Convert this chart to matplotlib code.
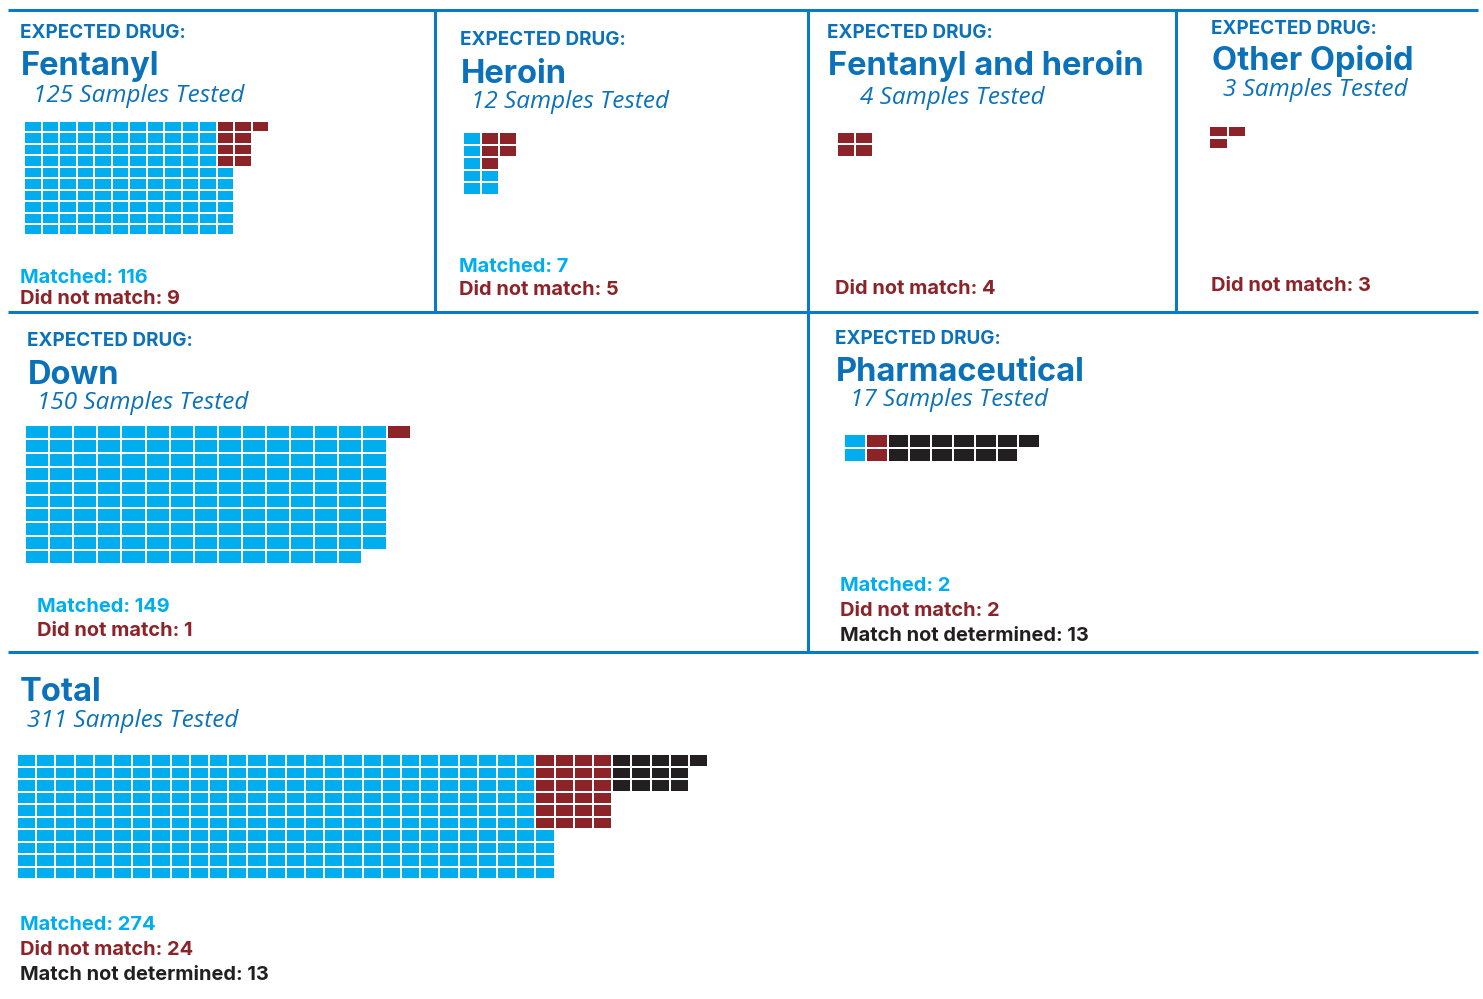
import matplotlib
matplotlib.use("Agg")
import matplotlib.pyplot as plt
from matplotlib.patches import Rectangle

plt.rcParams["font.family"] = ["Inter", "DejaVu Sans"]

# datos
nombres = ["Fentanyl", "Heroin", "Fentanyl and heroin", "Other Opioid", "Down", "Pharmaceutical", "Total"]
muestras = [125, 12, 4, 3, 150, 17, 311]
coinciden = [116, 7, 0, 0, 149, 2, 274]
no_coinciden = [9, 5, 4, 3, 1, 2, 24]
no_determinado = [0, 0, 0, 0, 0, 13, 13]

etiquetas = ["Matched", "Did not match", "Match not determined"]
colores = ["#00adee", "#8b2328", "#231f20"]
AZUL = "#0b72b9"
LINEA = "#0a7ac4"

W, H = 1483, 999

# layout de cada panel (pixeles)
# x, base "EXPECTED DRUG", base titulo, x subtitulo, base subtitulo
cabeceras = [
    (20, 38, 75, 33, 102),
    (460, 45, 83, 471, 108),
    (827, 38, 75, 860, 104),
    (1211, 34, 70, 1223, 96),
    (27, 346, 384, 37, 409),
    (835, 344, 381, 850, 406),
    (19, None, 701, 27, 727),
]
# x leyenda, base primera linea, separacion
leyendas = [
    (20, 283, 21),
    (459, 272, 23),
    (835, 294, 24),
    (1211, 291, 24),
    (37, 612, 24),
    (840, 591, 25),
    (20, 930, 25),
]
# izquierda, arriba, paso x, paso y, filas, bandas, de abajo hacia arriba, columna nueva
waffles = [
    (25, 122, 17.5, 11.45, 10, [10, 4, 4], [True, False, False], [False, False, False]),
    (464, 133, 18.0, 12.5, 5, [5, 3, 3], [True, False, False], [False, False, False]),
    (838, 133, 18.0, 12.4, 2, [2, 2, 2], [False, False, False], [False, False, False]),
    (1210, 127, 18.5, 11.5, 2, [2, 2, 2], [False, False, False], [False, False, False]),
    (26, 426, 24.1, 13.9, 10, [10, 1, 1], [False, False, False], [False, True, False]),
    (845, 435, 21.8, 14.0, 2, [2, 2, 2], [False, False, False], [False, False, False]),
    (18, 755, 19.2, 12.5, 10, [10, 6, 3], [True, False, False], [False, False, False]),
]


def llenar(conteos, bandas, abajo, nueva):
    ocupadas = set()
    celdas = []
    col = 0
    ultima = -1
    for k, n in enumerate(conteos):
        lista = []
        if n == 0:
            celdas.append(lista)
            continue
        if nueva[k] and ultima >= 0:
            col = ultima + 1
        orden = list(range(bandas[k]))
        if abajo[k]:
            orden = orden[::-1]
        while n > 0:
            for r in orden:
                if (col, r) not in ocupadas:
                    ocupadas.add((col, r))
                    lista.append((col, r))
                    n -= 1
                    if n == 0:
                        break
            if n > 0:
                col += 1
        ultima = col
        celdas.append(lista)
    return celdas


fig = plt.figure(figsize=(W / 100, H / 100), dpi=100)
base = fig.add_axes([0, 0, 1, 1])
base.set_xlim(0, W)
base.set_ylim(H, 0)
base.axis("off")

# lineas de los paneles
lw = 2.2
base.plot([8, 1478], [10, 10], color=LINEA, lw=lw, solid_capstyle="butt")
base.plot([8, 1478], [312, 312], color=LINEA, lw=lw, solid_capstyle="butt")
base.plot([8, 1478], [652, 652], color=LINEA, lw=lw, solid_capstyle="butt")
base.plot([435, 435], [10, 312], color=LINEA, lw=lw, solid_capstyle="butt")
base.plot([808, 808], [10, 652], color=LINEA, lw=lw, solid_capstyle="butt")
base.plot([1176, 1176], [10, 312], color=LINEA, lw=lw, solid_capstyle="butt")

for i, nombre in enumerate(nombres):
    x, b_exp, b_tit, x_sub, b_sub = cabeceras[i]
    if b_exp is not None:
        base.text(x, b_exp, "EXPECTED DRUG:", color=AZUL, fontsize=13.6,
                  fontweight="bold", va="baseline", ha="left")
    base.text(x + 1, b_tit, nombre, color=AZUL, fontsize=23.5,
              fontweight="bold", va="baseline", ha="left")
    base.text(x_sub, b_sub, f"{muestras[i]} Samples Tested", color=AZUL,
              fontsize=17.5, fontstyle="italic", family=["Open Sans", "DejaVu Sans"],
              va="baseline", ha="left")

    conteos = [coinciden[i], no_coinciden[i], no_determinado[i]]
    lx, ly, sep = leyendas[i]
    j = 0
    for k, n in enumerate(conteos):
        if n == 0:
            continue
        base.text(lx, ly + j * sep, f"{etiquetas[k]}: {n}", color=colores[k],
                  fontsize=14.4, fontweight="bold", va="baseline", ha="left")
        j += 1

    izq, arr, px, py, filas, bandas, abajo, nueva = waffles[i]
    celdas = llenar(conteos, bandas, abajo, nueva)
    ncol = max(c for lista in celdas for c, r in lista) + 1
    ax = fig.add_axes([izq / W, 1 - (arr + filas * py) / H, ncol * px / W, filas * py / H])
    ax.set_xlim(0, ncol)
    ax.set_ylim(filas, 0)
    ax.axis("off")
    gx = 2.0 / px
    gy = 2.0 / py
    for k, lista in enumerate(celdas):
        for c, r in lista:
            ax.add_patch(Rectangle((c, r), 1 - gx, 1 - gy, facecolor=colores[k],
                                   edgecolor="none"))

fig.savefig("out.png", dpi=100)
